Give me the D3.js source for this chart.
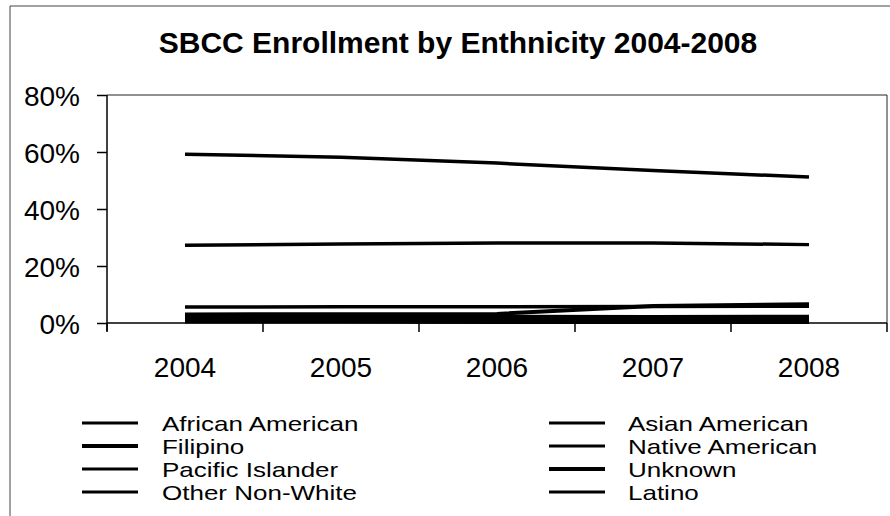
<!DOCTYPE html>
<html>
<head>
<meta charset="utf-8">
<script src="https://cdn.jsdelivr.net/npm/d3@7"></script>
<style>
  body { margin: 0; background: #fff; }
  svg text { font-family: "Liberation Sans", Arial, sans-serif; fill: #000; }
</style>
</head>
<body>
<div id="chart"></div>
<script>
// Data (share of enrollment)
const years = ["2004", "2005", "2006", "2007", "2008"];
const white = [0.592, 0.582, 0.561, 0.535, 0.512];
const latino = [0.273, 0.277, 0.281, 0.281, 0.275];
const asianAmerican = [0.056, 0.057, 0.057, 0.058, 0.059];
const unknown = [0.030, 0.031, 0.032, 0.060, 0.066];
const africanAmerican = [0.025, 0.024, 0.023, 0.022, 0.023];
const otherNonWhite = [0.018, 0.016, 0.015, 0.013, 0.012];
const filipino = [0.013, 0.013, 0.012, 0.012, 0.011];
const nativeAmerican = [0.010, 0.009, 0.009, 0.008, 0.008];
const pacificIslander = [0.004, 0.004, 0.003, 0.003, 0.003];
const yTicks = [0, 0.2, 0.4, 0.6, 0.8];

const series = [
    { name: "White", values: white },
    { name: "Latino", values: latino },
    { name: "Asian American", values: asianAmerican },
    { name: "Unknown", values: unknown },
    { name: "African American", values: africanAmerican },
    { name: "Other Non-White", values: otherNonWhite },
    { name: "Filipino", values: filipino },
    { name: "Native American", values: nativeAmerican },
    { name: "Pacific Islander", values: pacificIslander }
];

// legend order as in the original (two columns)
const legendLeft = ["African American", "Filipino", "Pacific Islander", "Other Non-White"];
const legendRight = ["Asian American", "Native American", "Unknown", "Latino"];
const thick = ["Filipino", "Unknown"];

const width = 890;
const height = 516;
const plot = { left: 107, right: 887, top: 95, bottom: 323 };

const svg = d3.select("#chart")
    .append("svg")
    .attr("width", width)
    .attr("height", height);

// outer frame (left and top edges visible)
svg.append("path")
    .attr("d", `M10,${height} V6 H${width}`)
    .attr("fill", "none")
    .attr("stroke", "#444")
    .attr("stroke-width", 1);

svg.append("text")
    .attr("x", 458)
    .attr("y", 53)
    .attr("text-anchor", "middle")
    .style("font-size", "30px")
    .style("font-weight", "bold")
    .text("SBCC Enrollment by Enthnicity 2004-2008");

const x = d3.scaleBand().domain(years).range([plot.left, plot.right]);
const y = d3.scaleLinear().domain([0, 0.8]).range([plot.bottom, plot.top]);

// plot frame top/right
svg.append("path")
    .attr("d", `M${plot.left},${plot.top} H${plot.right} V${plot.bottom}`)
    .attr("fill", "none")
    .attr("stroke", "#222")
    .attr("stroke-width", 1);

// y axis
const yAxis = svg.append("g")
    .attr("transform", `translate(${plot.left},0)`)
    .call(d3.axisLeft(y).tickValues(yTicks).tickFormat(d3.format(".0%")).tickSize(10).tickPadding(17));
yAxis.selectAll("path, line").attr("stroke", "#000").attr("stroke-width", 1.5);
yAxis.select(".domain").attr("d", `M0,${plot.top}V${plot.bottom + 8}`);
yAxis.selectAll("text").style("font-size", "28px").attr("dy", "0.36em");

// x axis: labels at band centres, ticks at band edges
const xAxis = svg.append("g")
    .attr("transform", `translate(0,${plot.bottom})`)
    .call(d3.axisBottom(x).tickSize(0).tickPadding(0));
xAxis.select(".domain").attr("d", `M${plot.left},0H${plot.right}`).attr("stroke", "#000").attr("stroke-width", 1.5);
xAxis.selectAll("text").attr("dy", null).attr("y", 54).style("font-size", "28px");

const edges = years.map(d => x(d)).concat([plot.right]);
svg.append("g")
    .selectAll("line")
    .data(edges)
    .enter().append("line")
    .attr("x1", d => d).attr("x2", d => d)
    .attr("y1", plot.bottom).attr("y2", plot.bottom + 9)
    .attr("stroke", "#000")
    .attr("stroke-width", 1.5);

// series lines
const line = d3.line()
    .x((d, i) => x(years[i]) + x.bandwidth() / 2)
    .y(d => y(d));

svg.append("g")
    .selectAll("path")
    .data(series)
    .enter().append("path")
    .attr("d", d => line(d.values))
    .attr("fill", "none")
    .attr("stroke", "#000")
    .attr("stroke-width", d => thick.includes(d.name) ? 4 : 3.5);

// legend - the original type is wide and squat, so squash it vertically
const rowY = [423, 446, 469, 492];
function drawLegend(names, lineX0, lineX1, textX) {
    const g = svg.append("g");
    const item = g.selectAll("g")
        .data(names)
        .enter().append("g");
    item.append("line")
        .attr("x1", lineX0).attr("x2", lineX1)
        .attr("y1", (d, i) => rowY[i]).attr("y2", (d, i) => rowY[i])
        .attr("stroke", "#000")
        .attr("stroke-width", d => thick.includes(d) ? 4 : 3);
    item.append("text")
        .attr("transform", (d, i) => `translate(${textX},${rowY[i] + 7.5}) scale(1,0.8)`)
        .style("font-size", "26px")
        .text(d => d);
}
drawLegend(legendLeft, 82, 138, 162);
drawLegend(legendRight, 549, 605, 628);
</script>
</body>
</html>
